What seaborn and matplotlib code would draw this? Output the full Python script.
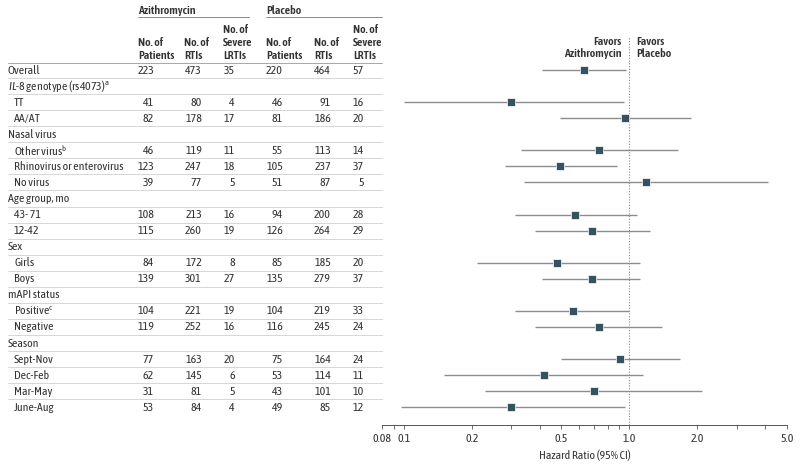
import matplotlib
matplotlib.use("Agg")
import matplotlib.pyplot as plt
import matplotlib.transforms as mtransforms
from matplotlib import font_manager
from matplotlib.ticker import FixedLocator, NullFormatter
import pandas as pd
import seaborn as sns

sns.set_style("white")

# pick a narrow face if one is around, otherwise a plain sans
installed = {f.name for f in font_manager.fontManager.ttflist}
FONT, FS = "Roboto", 6.8
for cand in ["Asap Condensed", "Barlow Semi Condensed", "Archivo Narrow"]:
    if cand in installed:
        FONT, FS = cand, 8.6
        break
plt.rcParams["font.family"] = [FONT, "DejaVu Sans"]
plt.rcParams["mathtext.fontset"] = "custom"
plt.rcParams["mathtext.rm"] = FONT
plt.rcParams["mathtext.it"] = FONT + ":italic"

# row labels
labels = [
    "Overall", r"$\mathit{IL}$-$\mathit{8}$ genotype (rs4073)$^{\mathrm{a}}$", "TT", "AA/AT",
    "Nasal virus", r"Other virus$^{\mathrm{b}}$", "Rhinovirus or enterovirus", "No virus",
    "Age group, mo", "43- 71", "12-42",
    "Sex", "Girls", "Boys",
    "mAPI status", r"Positive$^{\mathrm{c}}$", "Negative",
    "Season", "Sept-Nov", "Dec-Feb", "Mar-May", "June-Aug",
]
is_sub = [False, False, True, True, False, True, True, True, False, True, True,
          False, True, True, False, True, True, False, True, True, True, True]

azi_patients = [223, None, 41, 82, None, 46, 123, 39, None, 108, 115, None, 84, 139, None, 104, 119, None, 77, 62, 31, 53]
azi_rtis = [473, None, 80, 178, None, 119, 247, 77, None, 213, 260, None, 172, 301, None, 221, 252, None, 163, 145, 81, 84]
azi_severe = [35, None, 4, 17, None, 11, 18, 5, None, 16, 19, None, 8, 27, None, 19, 16, None, 20, 6, 5, 4]
pla_patients = [220, None, 46, 81, None, 55, 105, 51, None, 94, 126, None, 85, 135, None, 104, 116, None, 75, 53, 43, 49]
pla_rtis = [464, None, 91, 186, None, 113, 237, 87, None, 200, 264, None, 185, 279, None, 219, 245, None, 164, 114, 101, 85]
pla_severe = [57, None, 16, 20, None, 14, 37, 5, None, 28, 29, None, 20, 37, None, 33, 24, None, 24, 11, 10, 12]

hr = [0.63, None, 0.30, 0.96, None, 0.73, 0.49, 1.19, None, 0.575, 0.685, None, 0.48, 0.68, None, 0.56, 0.73, None, 0.91, 0.42, 0.70, 0.30]
hr_lo = [0.41, None, 0.10, 0.49, None, 0.33, 0.28, 0.34, None, 0.31, 0.38, None, 0.21, 0.41, None, 0.31, 0.38, None, 0.50, 0.15, 0.23, 0.097]
hr_hi = [0.97, None, 0.95, 1.87, None, 1.64, 0.88, 4.12, None, 1.08, 1.24, None, 1.12, 1.12, None, 1.0, 1.40, None, 1.68, 1.15, 2.09, 0.96]

major_ticks = [0.08, 0.1, 0.2, 0.5, 1.0, 2.0, 5.0]
major_labels = ["0.08", "0.1", "0.2", "0.5", "1.0", "2.0", "5.0"]
minor_ticks = [0.09, 0.3, 0.4, 0.6, 0.7, 0.8, 0.9, 3.0, 4.0]

TXT = "#333333"
W, H = 800, 465


def fx(px):
    return px / W


def fy(py):
    return 1 - py / H


fig = plt.figure(figsize=(8, 4.65), dpi=100)
ax = fig.add_axes([fx(382), fy(425), fx(787) - fx(382), (425 - 37) / H])

df = pd.DataFrame({"row": range(len(labels)), "hr": hr, "lo": hr_lo, "hi": hr_hi}).dropna()

ax.hlines(df["row"], df["lo"], df["hi"], color="#8c8c8c", lw=1, zorder=2)
sns.scatterplot(data=df, x="hr", y="row", marker="s", s=30, color="#34525f",
                edgecolor="white", linewidth=0.5, ax=ax, zorder=3)
ax.axvline(1.0, color="#888888", lw=0.8, ls=(0, (1, 1.5)), zorder=1)

ax.set_xscale("log")
ax.set_xlim(0.08, 5.0)
row_px = 16.06
ax.set_ylim((425 - 70) / row_px, (37 - 70) / row_px)
ax.xaxis.set_major_locator(FixedLocator(major_ticks))
ax.set_xticklabels(major_labels)
ax.xaxis.set_minor_locator(FixedLocator(minor_ticks))
ax.xaxis.set_minor_formatter(NullFormatter())
ax.tick_params(axis="x", which="both", direction="out", length=3, width=0.6,
               color="#555555", labelsize=FS, labelcolor=TXT, pad=3, bottom=True)
ax.set_yticks([])
ax.set_ylabel("")
ax.set_xlabel("Hazard Ratio (95% CI)", fontsize=FS, color=TXT, labelpad=4)
for s in ["top", "left", "right"]:
    ax.spines[s].set_visible(False)
ax.spines["bottom"].set_color("#555555")
ax.spines["bottom"].set_linewidth(0.7)
ax.patch.set_alpha(0)

# favors labels
ax.text(0.927, -1.4, "Favors\nAzithromycin", ha="right", va="center", fontsize=FS,
        fontweight="semibold", color=TXT, linespacing=1.15)
ax.text(1.077, -1.4, "Favors\nPlacebo", ha="left", va="center", fontsize=FS,
        fontweight="semibold", color=TXT, linespacing=1.15)

# table
trans = mtransforms.blended_transform_factory(fig.transFigure, ax.transData)
num_cols = [(154, azi_patients), (202, azi_rtis), (235, azi_severe),
            (283, pla_patients), (331, pla_rtis), (364, pla_severe)]
for r, lab in enumerate(labels):
    x0 = 14 if is_sub[r] else 8
    ax.text(fx(x0), r, lab, transform=trans, ha="left", va="center",
            fontsize=FS, color=TXT, clip_on=False)
    for xr, vals in num_cols:
        if vals[r] is not None:
            ax.text(fx(xr), r, str(vals[r]), transform=trans, ha="right",
                    va="center", fontsize=FS, color=TXT, clip_on=False)
    if r < len(labels) - 1:
        fig.add_artist(plt.Line2D([fx(8), fx(382)], [fy(70 + (r + 0.5) * row_px)] * 2,
                                  color="#d0d0d0", lw=0.6))

fig.add_artist(plt.Line2D([fx(8), fx(382)], [fy(63.5)] * 2, color="#9a9a9a", lw=0.6))

# headers
fig.text(fx(138), fy(10), "Azithromycin", ha="left", va="center", fontsize=FS,
         fontweight="semibold", color=TXT)
fig.text(fx(266), fy(10), "Placebo", ha="left", va="center", fontsize=FS,
         fontweight="semibold", color=TXT)
fig.add_artist(plt.Line2D([fx(138), fx(249)], [fy(17)] * 2, color="#777777", lw=0.6))
fig.add_artist(plt.Line2D([fx(266), fx(382)], [fy(17)] * 2, color="#777777", lw=0.6))

headers = [(138, "No. of\nPatients"), (184, "No. of\nRTIs"), (223, "No. of\nSevere\nLRTIs"),
           (266, "No. of\nPatients"), (314, "No. of\nRTIs"), (353, "No. of\nSevere\nLRTIs")]
for xh, txt in headers:
    fig.text(fx(xh), fy(59), txt, ha="left", va="baseline", fontsize=FS,
             fontweight="semibold", color=TXT, linespacing=1.2)

fig.savefig("out.png", dpi=100)
